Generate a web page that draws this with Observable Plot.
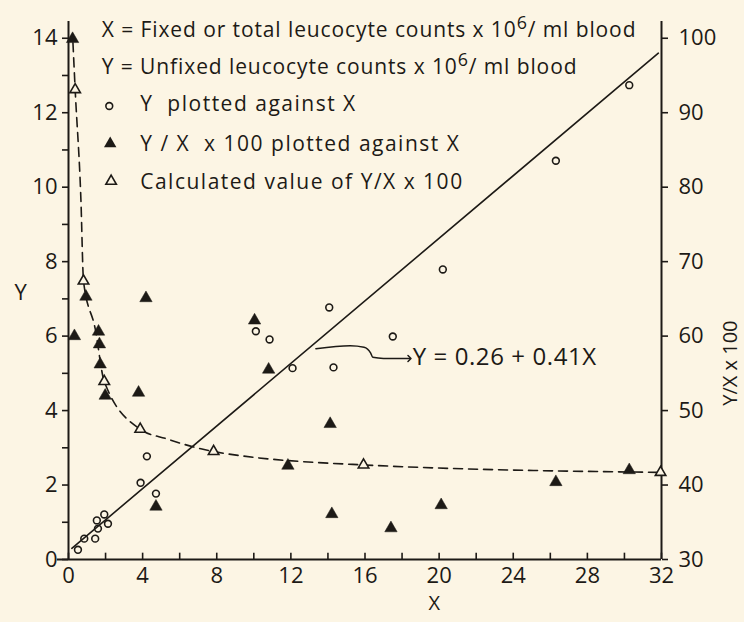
<!DOCTYPE html>
<html><head><meta charset="utf-8">
<script src="https://cdn.jsdelivr.net/npm/d3@7"></script>
<script src="https://cdn.jsdelivr.net/npm/@observablehq/plot@0.6"></script>
<style>
html,body{margin:0;padding:0;background:#fcf5e4;}
.leg1 text{letter-spacing:0.9px;}
.leg2 text{letter-spacing:1.5px;}
.eq text{letter-spacing:0.6px;}
</style></head><body><div id="chart"></div>
<script>
// Open circles: Y plotted against X
const circleX = [0.51, 0.85, 1.44, 1.59, 1.53, 1.93, 2.13, 3.89, 4.23, 4.72, 10.11, 10.85, 12.09, 14.07, 14.30, 17.50, 20.20, 26.30, 30.26];
const circleY = [0.26, 0.56, 0.56, 0.83, 1.05, 1.21, 0.96, 2.06, 2.77, 1.77, 6.13, 5.91, 5.14, 6.77, 5.16, 5.99, 7.79, 10.71, 12.74];
// Filled triangles: Y/X x 100 plotted against X (right axis)
const ratioX = [0.22, 0.32, 0.94, 1.62, 1.67, 1.71, 1.98, 3.78, 4.18, 4.72, 10.04, 10.80, 11.84, 14.12, 14.21, 17.40, 20.11, 26.30, 30.26];
const ratioR = [99.9, 60.0, 65.3, 60.6, 58.9, 56.2, 52.0, 52.4, 65.1, 37.1, 62.1, 55.5, 42.6, 48.2, 36.1, 34.2, 37.3, 40.4, 42.0];
// Open triangles: calculated value of Y/X x 100
const calcX = [0.36, 0.81, 1.93, 3.87, 7.83, 15.92, 31.95];
const calcR = [93.1, 67.4, 53.9, 47.5, 44.5, 42.7, 41.7];
// Dashed curve through calculated values
const curveX = [0.24, 0.36, 0.67, 0.81, 1.44, 1.93, 3.87, 5.31, 7.83, 15.92, 31.95];
const curveR = [99.4, 93.1, 78.3, 67.4, 61.0, 53.9, 47.5, 46.2, 44.5, 42.7, 41.7];
// Regression line endpoints as drawn
const fitX = [0.18, 31.83];
const fitY = [0.30, 13.60];
// Axis ticks
const xTicks = [0, 2, 4, 6, 8, 10, 12, 14, 16, 18, 20, 22, 24, 26, 28, 30, 32];
const xLabels = [0, 4, 8, 12, 16, 20, 24, 28, 32];
const yTicks = [0, 1, 2, 3, 4, 5, 6, 7, 8, 9, 10, 11, 12, 13, 14];
const rightTicks = [30, 40, 50, 60, 70, 80, 90, 100];
// Legend / annotation text
const legendLines = [
  "X = Fixed or total leucocyte counts x 10^6/ ml blood",
  "Y = Unfixed leucocyte counts x 10^6/ ml blood"
];
const legendRows = ["Y  plotted against X", "Y / X  x 100 plotted against X", "Calculated value of Y/X x 100"];
const equation = "Y = 0.26 + 0.41X";
// Arrow path
const arrowX = [13.35, 15.2, 15.95, 16.3, 16.42, 17.0, 18.4];
const arrowY = [5.66, 5.74, 5.70, 5.55, 5.43, 5.40, 5.40];

const ink = "#1d1a16";
const bg = "#fcf5e4";
const font = "Open Sans";
const toY = r => (r - 30) / 5; // right axis: 30 ↔ Y=0, 100 ↔ Y=14

const circles = circleX.map((x, i) => ({x, y: circleY[i]}));
const ratios = ratioX.map((x, i) => ({x, y: toY(ratioR[i])}));
const calcs = calcX.map((x, i) => ({x, y: toY(calcR[i])}));
const curve = curveX.map((x, i) => ({x, y: toY(curveR[i])}));
const fit = fitX.map((x, i) => ({x, y: fitY[i]}));
const arrow = arrowX.map((x, i) => ({x, y: arrowY[i]}));

const chart = Plot.plot({
  width: 744, height: 622,
  marginLeft: 68, marginRight: 83, marginTop: 21, marginBottom: 63,
  x: {domain: [0, 32]},
  y: {domain: [0, 14.45]},
  style: {background: bg, color: ink, fontFamily: font, fontSize: "22px", overflow: "visible"},
  marks: [
    // axes lines
    Plot.ruleY([0], {x1: -0.6, x2: 32, stroke: ink, strokeWidth: 2}),
    Plot.ruleX([0], {y1: 0, y2: 14.45, stroke: ink, strokeWidth: 2}),
    Plot.ruleX([32], {y1: 0, y2: 14.45, stroke: ink, strokeWidth: 2}),
    Plot.ruleX(xTicks, {x: d => d, y1: 0, y2: 0.17, stroke: ink, strokeWidth: 1.6}),
    Plot.axisX({ticks: xLabels, tickSize: 0, tickPadding: 8, label: null, fontSize: 22}),
    Plot.axisY({ticks: yTicks, tickSize: 6, tickPadding: 5, tickFormat: d => d % 2 ? "" : d, label: null, fontSize: 22, strokeWidth: 1.6}),
    Plot.axisY({anchor: "right", ticks: rightTicks.map(toY), tickSize: 6, tickPadding: 11, tickFormat: d => Math.round(30 + 5 * d), label: null, fontSize: 22, strokeWidth: 1.6}),
    // axis titles
    Plot.text(["X"], {x: 19.74, frameAnchor: "bottom", dy: 50, fontSize: 20, fill: ink}),
    Plot.text(["Y"], {y: 7.15, frameAnchor: "left", dx: -54, fontSize: 22, fill: ink}),
    Plot.text(["Y/X x 100"], {y: 6.42, frameAnchor: "right", dx: 69, rotate: -90, fontSize: 20, fill: ink}),
    // regression line
    Plot.line(fit, {x: "x", y: "y", stroke: ink, strokeWidth: 1.6}),
    // dashed calculated curve
    Plot.line(curve, {x: "x", y: "y", stroke: ink, strokeWidth: 1.6, strokeDasharray: "9,6", curve: "monotone-x"}),
    // data points
    Plot.dot(circles, {x: "x", y: "y", r: 3.4, fill: "none", stroke: ink, strokeWidth: 1.6}),
    Plot.dot(ratios, {x: "x", y: "y", symbol: "triangle", r: 4.6, fill: ink, stroke: ink, strokeWidth: 0.5}),
    Plot.dot(calcs, {x: "x", y: "y", symbol: "triangle", r: 3.9, fill: bg, stroke: ink, strokeWidth: 1.6}),
    // annotation
    Plot.line(arrow, {x: "x", y: "y", stroke: ink, strokeWidth: 1.5, curve: "monotone-x", markerEnd: "arrow"}),
    Plot.text([equation], {x: 18.57, y: 5.43, textAnchor: "start", fontSize: 24, fill: ink, className: "eq"}),
    // legend
    Plot.text(legendLines, {x: 1.8, y: (d, i) => [14.22, 13.23][i], textAnchor: "start", fontSize: 21, fill: ink, className: "leg1"}),
    Plot.dot([0], {x: 2.2, y: 12.18, r: 3.4, fill: "none", stroke: ink, strokeWidth: 1.6}),
    Plot.dot([0], {x: 2.25, y: 11.17, symbol: "triangle", r: 4.6, fill: ink}),
    Plot.dot([0], {x: 2.3, y: 10.16, symbol: "triangle", r: 3.9, fill: bg, stroke: ink, strokeWidth: 1.6}),
    Plot.text(legendRows, {x: 3.87, y: (d, i) => [12.23, 11.16, 10.13][i], textAnchor: "start", fontSize: 21, fill: ink, className: "leg2"})
  ]
});

// superscript 6 in legend lines
d3.select(chart).selectAll("text").each(function() {
  const t = this.textContent;
  if (t.includes("^6")) {
    const [a, b] = t.split("^6");
    const sel = d3.select(this);
    sel.text(null);
    sel.append("tspan").text(a);
    sel.append("tspan").attr("dy", "-0.42em").attr("font-size", "0.85em").text("6");
    sel.append("tspan").attr("dy", "0.36em").text(b);
  }
});
document.getElementById("chart").append(chart);
</script>
</body></html>
